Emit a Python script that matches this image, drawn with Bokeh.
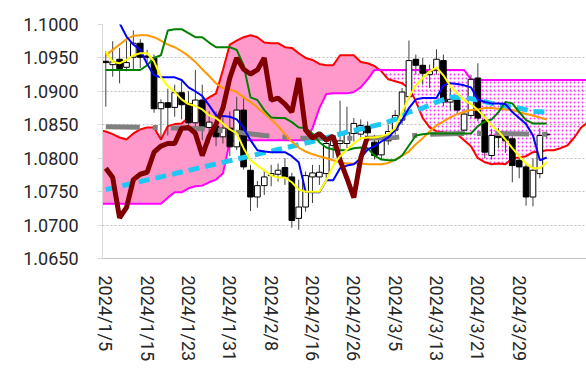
from bokeh.plotting import figure
from bokeh.models import Range1d, FixedTicker, NumeralTickFormatter, ColumnDataSource
from bokeh.embed import file_html
from bokeh.resources import INLINE

# ---------------- data (EUR/USD daily, ichimoku style) ----------------
tick_idx = [0, 6, 12, 18, 24, 30, 36, 42, 48, 54, 60]
tick_labels = ["2024/1/5", "2024/1/15", "2024/1/23", "2024/1/31", "2024/2/8",
               "2024/2/16", "2024/2/26", "2024/3/5", "2024/3/13", "2024/3/21", "2024/3/29"]
y_ticks = [1.0650, 1.0700, 1.0750, 1.0800, 1.0850, 1.0900, 1.0950, 1.1000]

opens = [1.0945, 1.0940, 1.0948, 1.0936, 1.0951, 1.0972, 1.0953, 1.0950, 1.0874, 1.0883,
         1.0876, 1.0898, 1.0882, 1.0853, 1.0887, 1.0846, 1.0848, 1.0832, 1.0845, 1.0817,
         1.0872, 1.0782, 1.0742, 1.0759, 1.0774, 1.0776, 1.0786, 1.0772, 1.0710, 1.0727,
         1.0772, 1.0772, 1.0777, 1.0819, 1.0822, 1.0822, 1.0837, 1.0836, 1.0848, 1.0824,
         1.0805, 1.0826, 1.0842, 1.0857, 1.0892, 1.0948, 1.0939, 1.0925, 1.0932, 1.0946,
         1.0884, 1.0887, 1.0842, 1.0864, 1.0920, 1.0857, 1.0804, 1.0835, 1.0834, 1.0829,
         1.0797, 1.0787, 1.0742, 1.0777, 1.0836]
highs = [1.0960, 1.0975, 1.0965, 1.0976, 1.0991, 1.0978, 1.0962, 1.0955, 1.0888, 1.0904,
         1.0910, 1.0915, 1.0900, 1.0932, 1.0910, 1.0870, 1.0870, 1.0862, 1.0870, 1.0892,
         1.0893, 1.0790, 1.0766, 1.0782, 1.0790, 1.0792, 1.0800, 1.0778, 1.0768, 1.0780,
         1.0790, 1.0790, 1.0828, 1.0835, 1.0886, 1.0877, 1.0860, 1.0858, 1.0855, 1.0835,
         1.0835, 1.0850, 1.0872, 1.0905, 1.0976, 1.0955, 1.0950, 1.0940, 1.0963, 1.0955,
         1.0905, 1.0893, 1.0874, 1.0925, 1.0942, 1.0866, 1.0844, 1.0845, 1.0840, 1.0833,
         1.0800, 1.0792, 1.0800, 1.0845, 1.0840]
lows = [1.0877, 1.0922, 1.0912, 1.0930, 1.0932, 1.0935, 1.0944, 1.0868, 1.0830, 1.0834,
        1.0862, 1.0858, 1.0845, 1.0827, 1.0827, 1.0822, 1.0818, 1.0822, 1.0803, 1.0812,
        1.0783, 1.0721, 1.0726, 1.0745, 1.0758, 1.0765, 1.0760, 1.0696, 1.0693, 1.0720,
        1.0733, 1.0760, 1.0770, 1.0800, 1.0810, 1.0815, 1.0825, 1.0828, 1.0830, 1.0798,
        1.0798, 1.0820, 1.0835, 1.0850, 1.0888, 1.0925, 1.0910, 1.0905, 1.0925, 1.0878,
        1.0872, 1.0866, 1.0835, 1.0860, 1.0855, 1.0800, 1.0798, 1.0815, 1.0808, 1.0764,
        1.0770, 1.0729, 1.0728, 1.0770, 1.0830]
closes = [1.0943, 1.0944, 1.0934, 1.0943, 1.0972, 1.0951, 1.0951, 1.0874, 1.0883, 1.0876,
          1.0898, 1.0880, 1.0853, 1.0887, 1.0846, 1.0854, 1.0832, 1.0845, 1.0817, 1.0872,
          1.0787, 1.0742, 1.0759, 1.0772, 1.0777, 1.0782, 1.0772, 1.0707, 1.0727, 1.0774,
          1.0778, 1.0779, 1.0822, 1.0826, 1.0826, 1.0838, 1.0852, 1.0849, 1.0838, 1.0804,
          1.0828, 1.0840, 1.0864, 1.0899, 1.0946, 1.0939, 1.0927, 1.0930, 1.0948, 1.0884,
          1.0888, 1.0872, 1.0866, 1.0918, 1.0860, 1.0809, 1.0834, 1.0831, 1.0826, 1.0789,
          1.0787, 1.0742, 1.0782, 1.0834, 1.0835]

tenkan = [1.1035, 1.1020, 1.1002, 1.0982, 1.0970, 1.0962, 1.0941, 1.0924, 1.0921, 1.0921,
          1.0921, 1.0917, 1.0906, 1.0900, 1.0893, 1.0879, 1.0864, 1.0863, 1.0862, 1.0858,
          1.0845, 1.0827, 1.0812, 1.0810, 1.0809, 1.0809, 1.0809, 1.0803, 1.0794, 1.0750,
          1.0749, 1.0749, 1.0767, 1.0767, 1.0785, 1.0789, 1.0791, 1.0800, 1.0813, 1.0818,
          1.0825, 1.0831, 1.0842, 1.0857, 1.0875, 1.0888, 1.0890, 1.0890, 1.0890, 1.0909,
          1.0912, 1.0911, 1.0909, 1.0906, 1.0888, 1.0884, 1.0882, 1.0882, 1.0881, 1.0869,
          1.0860, 1.0851, 1.0834, 1.0797, 1.0801]
kijun = [1.0932, 1.0932, 1.0932, 1.0932, 1.0932, 1.0932, 1.0939, 1.0950, 1.0954, 1.0991,
         1.0993, 1.0993, 1.0987, 1.0981, 1.0981, 1.0973, 1.0966, 1.0966, 1.0966, 1.0962,
         1.0939, 1.0891, 1.0887, 1.0872, 1.0861, 1.0860, 1.0860, 1.0854, 1.0846, 1.0845,
         1.0837, 1.0824, 1.0816, 1.0813, 1.0812, 1.0812, 1.0815, 1.0816, 1.0815, 1.0804,
         1.0798, 1.0797, 1.0797, 1.0804, 1.0819, 1.0834, 1.0836, 1.0837, 1.0837, 1.0837,
         1.0837, 1.0837, 1.0837, 1.0837, 1.0848, 1.0855, 1.0858, 1.0869, 1.0884, 1.0882,
         1.0869, 1.0857, 1.0852, 1.0852, 1.0852]

# leading spans start one day before the first candle
span_start = -1
senkou_a = [1.0842, 1.0840, 1.0836, 1.0831, 1.0828, 1.0837, 1.0843, 1.0846, 1.0846, 1.0828,
            1.0848, 1.0851, 1.0852, 1.0861, 1.0872, 1.0884, 1.0891, 1.0897, 1.0932, 1.0970,
            1.0976, 1.0981, 1.0984, 1.0981, 1.0973, 1.0972, 1.0972, 1.0966, 1.0965, 1.0957,
            1.0950, 1.0947, 1.0941, 1.0939, 1.0939, 1.0954, 1.0954, 1.0954, 1.0944, 1.0942,
            1.0938, 1.0930, 1.0918, 1.0915, 1.0912, 1.0905, 1.0885, 1.0860, 1.0846, 1.0840,
            1.0839, 1.0837, 1.0836, 1.0827, 1.0818, 1.0800, 1.0794, 1.0791, 1.0792, 1.0791,
            1.0800, 1.0801, 1.0803, 1.0809, 1.0810, 1.0812, 1.0812, 1.0815, 1.0819, 1.0831,
            1.0846, 1.0854]
senkou_b = [1.0732, 1.0732, 1.0732, 1.0732, 1.0732, 1.0732, 1.0732, 1.0732, 1.0732, 1.0732,
            1.0741, 1.0749, 1.0749, 1.0755, 1.0758, 1.0759, 1.0764, 1.0768, 1.0777, 1.0825,
            1.0827, 1.0827, 1.0827, 1.0827, 1.0827, 1.0827, 1.0827, 1.0827, 1.0827, 1.0827,
            1.0827, 1.0845, 1.0875, 1.0896, 1.0897, 1.0897, 1.0897, 1.0899, 1.0906, 1.0918,
            1.0932, 1.0932, 1.0932, 1.0932, 1.0932, 1.0932, 1.0932, 1.0932, 1.0932, 1.0932,
            1.0932, 1.0932, 1.0932, 1.0932, 1.0918, 1.0917, 1.0917, 1.0917, 1.0917, 1.0917,
            1.0917, 1.0917, 1.0917, 1.0917, 1.0917, 1.0917, 1.0917, 1.0917, 1.0917, 1.0917,
            1.0917, 1.0917]

chikou = [1.0785, 1.0771, 1.0711, 1.0726, 1.0768, 1.0776, 1.0779, 1.0809, 1.0818, 1.0822,
          1.0822, 1.0845, 1.0846, 1.0837, 1.0804, 1.0833, 1.0851, 1.0875, 1.0920, 1.0950,
          1.0933, 1.0926, 1.0932, 1.0950, 1.0887, 1.0890, 1.0881, 1.0869, 1.0920, 1.0842,
          1.0830, 1.0837, 1.0827, 1.0833, 1.0797, 1.0770, 1.0741, 1.0800, 1.0833]

ma_yellow = [1.0959, 1.0944, 1.0942, 1.0947, 1.0954, 1.0957, 1.0957, 1.0945, 1.0921, 1.0908,
             1.0899, 1.0888, 1.0881, 1.0878, 1.0873, 1.0864, 1.0860, 1.0852, 1.0843, 1.0837,
             1.0815, 1.0797, 1.0789, 1.0782, 1.0774, 1.0771, 1.0771, 1.0764, 1.0753, 1.0750,
             1.0750, 1.0750, 1.0767, 1.0789, 1.0803, 1.0813, 1.0822, 1.0830, 1.0831, 1.0831,
             1.0833, 1.0836, 1.0845, 1.0869, 1.0891, 1.0909, 1.0920, 1.0930, 1.0936, 1.0924,
             1.0908, 1.0897, 1.0887, 1.0881, 1.0872, 1.0861, 1.0849, 1.0840, 1.0828, 1.0815,
             1.0803, 1.0792, 1.0785, 1.0785, 1.0794]
ma_orange = [1.0954, 1.0962, 1.0970, 1.0978, 1.0983, 1.0984, 1.0984, 1.0981, 1.0976, 1.0970,
             1.0966, 1.0960, 1.0953, 1.0944, 1.0933, 1.0923, 1.0912, 1.0905, 1.0903, 1.0899,
             1.0891, 1.0884, 1.0876, 1.0867, 1.0858, 1.0848, 1.0836, 1.0825, 1.0816, 1.0810,
             1.0806, 1.0803, 1.0800, 1.0797, 1.0794, 1.0792, 1.0792, 1.0792, 1.0791, 1.0791,
             1.0791, 1.0793, 1.0798, 1.0804, 1.0810, 1.0821, 1.0830, 1.0840, 1.0849, 1.0855,
             1.0861, 1.0866, 1.0869, 1.0872, 1.0873, 1.0875, 1.0875, 1.0874, 1.0873, 1.0872,
             1.0869, 1.0866, 1.0864, 1.0861, 1.0858]

cyan_idx = [0, 5, 10, 15, 20, 25, 30, 35, 40, 42, 44, 46, 48, 50, 52, 54, 56, 58, 60, 62, 64]
cyan_val = [1.0753, 1.0765, 1.0777, 1.0789, 1.0801, 1.0813, 1.0825, 1.0839, 1.0851, 1.0858,
            1.0869, 1.0875, 1.0884, 1.0891, 1.0891, 1.0887, 1.0882, 1.0878, 1.0875, 1.0870,
            1.0869]
gray_idx = [0, 7, 14, 19, 23, 28, 33, 38, 42, 47, 52, 57, 62, 64]
gray_val = [1.0847, 1.0846, 1.0844, 1.0839, 1.0834, 1.0830, 1.0830, 1.0830, 1.0831, 1.0836,
            1.0837, 1.0837, 1.0836, 1.0836]

# ---------------- figure ----------------
FONT = "Roboto"
p = figure(width=586, height=373, output_backend="svg", toolbar_location=None,
           x_range=Range1d(-0.48, 69.77), y_range=Range1d(1.065, 1.100),
           min_border_left=102, min_border_right=0, min_border_top=24, min_border_bottom=115)
p.outline_line_color = None
p.background_fill_color = "white"
p.border_fill_color = "white"

# cloud
span_x = list(range(span_start, span_start + len(senkou_a)))
upper = [max(a, b) for a, b in zip(senkou_a, senkou_b)]
p.varea(x=span_x, y1=senkou_b, y2=upper, fill_color="#ff99cc", fill_alpha=1.0)
p.varea(x=span_x, y1=senkou_a, y2=upper, fill_alpha=0.0,
        hatch_pattern="dot", hatch_color="#ff33ff", hatch_scale=4, hatch_weight=1.2)
p.line(span_x, senkou_a, line_color="#ff0000", line_width=2)
p.line(span_x, senkou_b, line_color="#ff00ff", line_width=2)

# candles
idx = list(range(len(opens)))
src = ColumnDataSource(dict(
    x=idx, o=opens, h=highs, l=lows, c=closes,
    top=[max(o, c) for o, c in zip(opens, closes)],
    bot=[min(o, c) for o, c in zip(opens, closes)],
    fill=["white" if c >= o else "black" for o, c in zip(opens, closes)],
))
p.segment(x0="x", y0="l", x1="x", y1="h", source=src, line_color="#404040", line_width=1)
p.vbar(x="x", width=0.82, top="top", bottom="bot", source=src,
       fill_color="fill", line_color="black", line_width=1)

# moving averages & ichimoku lines
p.line(gray_idx, gray_val, line_color="#808080", line_width=5, line_dash="34 13 5 13")
p.line(cyan_idx, cyan_val, line_color="#1ec8f5", line_width=5, line_dash="11 6")
p.line(idx, ma_orange, line_color="#ff9900", line_width=2)
p.line(idx, kijun, line_color="#008000", line_width=2)
p.line(idx, tenkan, line_color="#0000ff", line_width=2)
p.line(list(range(len(chikou))), chikou, line_color="#800000", line_width=5)
p.line(idx, ma_yellow, line_color="#ffff00", line_width=2)

# axes
p.yaxis.ticker = FixedTicker(ticks=y_ticks)
p.yaxis.formatter = NumeralTickFormatter(format="0.0000")
p.yaxis.major_label_text_font = FONT
p.yaxis.major_label_text_font_size = "18px"
p.yaxis.major_label_text_color = "#262626"
p.yaxis.major_label_standoff = 19
p.yaxis.major_tick_out = 5
p.yaxis.major_tick_in = 0
p.yaxis.major_tick_line_color = "#d9d9d9"
p.yaxis.minor_tick_line_color = None
p.yaxis.axis_line_color = "#d9d9d9"

p.xaxis.ticker = FixedTicker(ticks=tick_idx)
p.xaxis.major_label_overrides = {i: s for i, s in zip(tick_idx, tick_labels)}
p.xaxis.major_label_orientation = "vertical"
p.xaxis.major_label_text_font = FONT
p.xaxis.major_label_text_font_size = "18px"
p.xaxis.major_label_text_color = "#262626"
p.xaxis.major_label_standoff = 11
p.xaxis.major_tick_line_color = None
p.xaxis.minor_tick_line_color = None
p.xaxis.axis_line_color = "#bfbfbf"

p.xgrid.visible = False
p.ygrid.ticker = FixedTicker(ticks=y_ticks)
p.ygrid.grid_line_color = "#bfbfbf"
p.ygrid.grid_line_dash = "2 2"
p.ygrid.grid_line_width = 1

open("out.html", "w").write(file_html(p, INLINE))
